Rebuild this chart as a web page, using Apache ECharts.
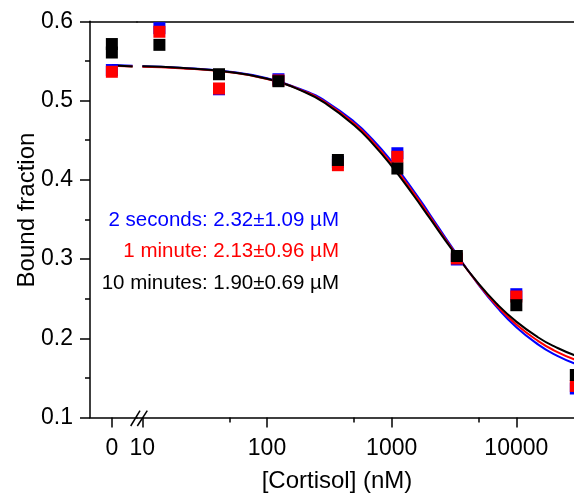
<!DOCTYPE html>
<html><head><meta charset="utf-8">
<script src="https://cdn.jsdelivr.net/npm/echarts@6/dist/echarts.min.js"></script>
<style>html,body{margin:0;padding:0;background:#fff;overflow:hidden;width:574px;height:497px}#c{width:640px;height:497px}</style>
</head><body><div id="c"></div>
<script>
// concentrations (nM) of the measured points
const conc = [0, 13.7, 41.2, 123.5, 370.4, 1111, 3333, 10000, 30000];
const blueY  = [0.5385, 0.5913, 0.5142, 0.5269, 0.4224, 0.4335, 0.2994, 0.2556, 0.1366];
const redY   = [0.5363, 0.5868, 0.5152, 0.5253, 0.4184, 0.4290, 0.3007, 0.2527, 0.1398];
const blackY = [0.5713, 0.5703, 0.5332, 0.5244, 0.4250, 0.4142, 0.3038, 0.2417, 0.1536];
const blackExtraConc = [0];
const blackExtraY = [0.5606];

// fitted curves
const fitConc  = [10, 20, 50, 100, 200, 300, 500, 700, 1000, 1500, 2000, 3000, 5000, 7000, 10000, 15000, 20000, 30000, 50000];
const fitBlue  = [0.5432, 0.5415, 0.5364, 0.5281, 0.5125, 0.4985, 0.4732, 0.4512, 0.4232, 0.3862, 0.3575, 0.3162, 0.2670, 0.2390, 0.2140, 0.1920, 0.1800, 0.1675, 0.1570];
const fitRed   = [0.5427, 0.5409, 0.5357, 0.5272, 0.5114, 0.4968, 0.4709, 0.4485, 0.4202, 0.3831, 0.3549, 0.3146, 0.2676, 0.2410, 0.2174, 0.1964, 0.1848, 0.1725, 0.1619];
const fitBlack = [0.5432, 0.5413, 0.5360, 0.5274, 0.5108, 0.4955, 0.4688, 0.4460, 0.4172, 0.3802, 0.3525, 0.3135, 0.2685, 0.2432, 0.2210, 0.2010, 0.1900, 0.1780, 0.1675];
const fitZeroConc  = [0, 0.95];
const fitZeroBlue  = [0.5450, 0.5440];
const fitZeroRed   = [0.5440, 0.5430];
const fitZeroBlack = [0.5445, 0.5430];

const xMajorTicks = [10, 100, 1000, 10000];
const xMinorTicks = [50, 500, 5000];
const xZeroTicks = [0];
const seriesNames = ['2 seconds', '1 minute', '10 minutes'];
const annotations = ['2 seconds: 2.32\u00b11.09 \u00b5M', '1 minute: 2.13\u00b10.96 \u00b5M', '10 minutes: 1.90\u00b10.69 \u00b5M'];
const colors = ['#0000ff', '#ff0000', '#000000'];
const xTitle = '[Cortisol] (nM)';
const yTitle = 'Bound fraction';

const FONT = "'Liberation Sans', Arial, sans-serif";
const lg = Math.log10;
const ptsY = [blueY, redY, blackY];
const fits = [fitBlue, fitRed, fitBlack];
const fitZeros = [fitZeroBlue, fitZeroRed, fitZeroBlack];

const gTop = 21.3, gH = 396.2;
const axisLineStyle = {color: '#000', width: 1.5};

const series = [];
for (let s = 0; s < 3; s++) {
  series.push({type: 'line', name: seriesNames[s] + ' fit', xAxisIndex: 0, yAxisIndex: 0,
    data: fitZeroConc.map((c, i) => [c, fitZeros[s][i]]), showSymbol: false, symbol: 'none',
    lineStyle: {color: colors[s], width: 2}, z: 2, silent: true});
  series.push({type: 'line', name: seriesNames[s] + ' fit', xAxisIndex: 1, yAxisIndex: 1,
    data: fitConc.map((c, i) => [lg(c), fits[s][i]]), smooth: true, showSymbol: false, symbol: 'none',
    lineStyle: {color: colors[s], width: 2}, z: 2, silent: true, clip: true});
}
for (let s = 0; s < 3; s++) {
  const zeroPts = [], logPts = [];
  conc.forEach((c, i) => { if (c === 0) zeroPts.push([0, ptsY[s][i]]); else logPts.push([lg(c), ptsY[s][i]]); });
  if (s === 2) blackExtraConc.forEach((c, i) => zeroPts.push([c, blackExtraY[i]]));
  const st = {type: 'scatter', name: seriesNames[s], symbol: 'rect', symbolSize: 12,
    itemStyle: {color: colors[s], opacity: 1}, z: 3 + s, clip: false, silent: true};
  series.push(Object.assign({}, st, {xAxisIndex: 0, yAxisIndex: 0, data: zeroPts}));
  series.push(Object.assign({}, st, {xAxisIndex: 1, yAxisIndex: 1, data: logPts}));
}

const yBase = {type: 'value', min: 0.1, max: 0.6, interval: 0.1};
const lineBase = {show: true, onZero: false, lineStyle: axisLineStyle};

const option = {
  animation: false,
  backgroundColor: '#fff',
  grid: [
    {left: 90, top: gTop, width: 47, height: gH},
    {left: 137, top: gTop, width: 466.6, height: gH}
  ],
  xAxis: [
    {gridIndex: 0, type: 'value', min: -1, max: 1.15, position: 'bottom',
      axisLine: lineBase,
      axisTick: {show: true, inside: false, length: 10, lineStyle: axisLineStyle, customValues: xZeroTicks},
      axisLabel: {show: true, customValues: xZeroTicks, formatter: v => String(v), color: '#000', fontSize: 23, fontFamily: FONT, margin: 20},
      splitLine: {show: false}},
    {gridIndex: 1, type: 'value', min: 0.957, max: 4.7, position: 'bottom',
      axisLine: lineBase,
      axisTick: {show: true, inside: false, length: 10, lineStyle: axisLineStyle, customValues: xMajorTicks.map(lg)},
      axisLabel: {show: true, customValues: xMajorTicks.map(lg), formatter: v => String(Math.round(Math.pow(10, v))), color: '#000', fontSize: 23, fontFamily: FONT, margin: 20},
      splitLine: {show: false}},
    {gridIndex: 1, type: 'value', min: 0.957, max: 4.7, position: 'bottom',
      axisLine: {show: false, onZero: false},
      axisTick: {show: true, inside: false, length: 5, lineStyle: axisLineStyle, customValues: xMinorTicks.map(lg)},
      axisLabel: {show: false}, splitLine: {show: false}},
    {gridIndex: 0, type: 'value', min: -1, max: 1.15, position: 'top',
      axisLine: lineBase, axisTick: {show: false}, axisLabel: {show: false}, splitLine: {show: false}},
    {gridIndex: 1, type: 'value', min: 0.957, max: 4.7, position: 'top',
      axisLine: lineBase, axisTick: {show: false}, axisLabel: {show: false}, splitLine: {show: false}}
  ],
  yAxis: [
    Object.assign({}, yBase, {gridIndex: 0, position: 'left',
      axisLine: lineBase,
      axisTick: {show: true, inside: false, length: 10, lineStyle: axisLineStyle},
      minorTick: {show: true, splitNumber: 2, length: 5, lineStyle: axisLineStyle},
      axisLabel: {color: '#000', fontSize: 23, fontFamily: FONT, margin: 17, formatter: v => v.toFixed(1)},
      splitLine: {show: false}, minorSplitLine: {show: false}}),
    Object.assign({}, yBase, {gridIndex: 1, show: false, axisLine: {show: false, onZero: false}, splitLine: {show: false}})
  ],
  graphic: [
    {type: 'line', shape: {x1: 130.7, y1: 426, x2: 140, y2: 410.7}, style: {stroke: '#000', lineWidth: 1.5}, z: 100},
    {type: 'line', shape: {x1: 137.3, y1: 426, x2: 147.3, y2: 410.7}, style: {stroke: '#000', lineWidth: 1.5}, z: 100},
    {type: 'text', x: 337, y: 481, style: {text: xTitle, fill: '#000', font: '24px ' + FONT, textAlign: 'center', textVerticalAlign: 'middle'}},
    {type: 'text', x: 27, y: 210, rotation: Math.PI / 2, style: {text: yTitle, fill: '#000', font: '24px ' + FONT, textAlign: 'center', textVerticalAlign: 'middle'}},
    {type: 'text', x: 339, y: 220, style: {text: annotations[0], fill: colors[0], font: '20.5px ' + FONT, textAlign: 'right', textVerticalAlign: 'middle'}, z: 50},
    {type: 'text', x: 339, y: 251.7, style: {text: annotations[1], fill: colors[1], font: '20.5px ' + FONT, textAlign: 'right', textVerticalAlign: 'middle'}, z: 50},
    {type: 'text', x: 339, y: 283.3, style: {text: annotations[2], fill: colors[2], font: '20.5px ' + FONT, textAlign: 'right', textVerticalAlign: 'middle'}, z: 50}
  ],
  series: series
};
const chart = echarts.init(document.getElementById('c'), null, {renderer: 'canvas'});
chart.setOption(option);
</script>
</body></html>
